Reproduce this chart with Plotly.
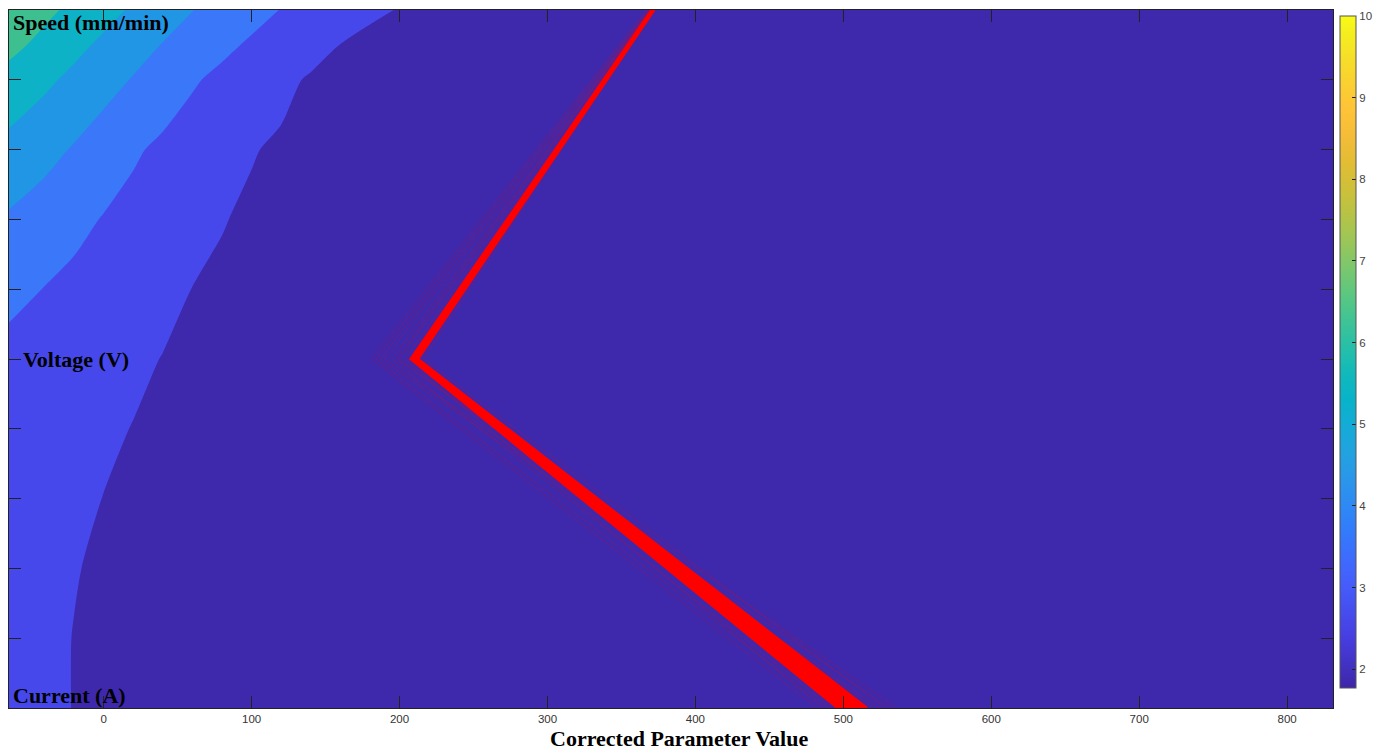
import plotly.graph_objects as go

# ---- response surface sampled on a coarse grid (parameter value x parameter axis) ----
grid_x = [-66, -40, -20, 0, 20, 40, 60, 80, 100, 120, 140, 160, 200, 300, 832]
grid_y = [1.0, 1.2, 1.4, 1.6, 1.8, 2.0, 2.2, 2.4, 2.6, 2.8, 2.9, 3.0]
grid_z = [
    [2.20, 2.09, 1.99, 1.94, 1.92, 1.91, 1.90, 1.89, 1.88, 1.87, 1.86, 1.85, 1.84, 1.81, 1.78],
    [2.25, 2.10, 1.99, 1.94, 1.92, 1.91, 1.90, 1.89, 1.88, 1.87, 1.86, 1.85, 1.84, 1.81, 1.78],
    [2.30, 2.15, 2.02, 1.94, 1.92, 1.91, 1.90, 1.89, 1.88, 1.87, 1.86, 1.85, 1.84, 1.81, 1.78],
    [2.40, 2.25, 2.12, 1.99, 1.93, 1.91, 1.90, 1.89, 1.88, 1.87, 1.86, 1.85, 1.84, 1.81, 1.78],
    [2.55, 2.39, 2.25, 2.12, 1.98, 1.92, 1.90, 1.89, 1.88, 1.87, 1.86, 1.85, 1.84, 1.81, 1.78],
    [2.80, 2.61, 2.45, 2.30, 2.14, 1.98, 1.92, 1.89, 1.88, 1.87, 1.86, 1.85, 1.84, 1.81, 1.78],
    [3.22, 2.98, 2.78, 2.59, 2.39, 2.20, 1.99, 1.90, 1.88, 1.87, 1.86, 1.85, 1.84, 1.81, 1.78],
    [3.91, 3.55, 3.24, 2.95, 2.72, 2.49, 2.26, 2.03, 1.90, 1.87, 1.86, 1.85, 1.84, 1.81, 1.78],
    [4.75, 4.30, 3.92, 3.52, 3.12, 2.82, 2.56, 2.30, 2.04, 1.90, 1.87, 1.86, 1.84, 1.81, 1.78],
    [5.69, 5.19, 4.77, 4.35, 3.94, 3.52, 3.10, 2.78, 2.48, 2.18, 1.92, 1.88, 1.85, 1.82, 1.79],
    [6.33, 5.72, 5.26, 4.81, 4.38, 3.96, 3.58, 3.21, 2.87, 2.58, 2.29, 1.99, 1.90, 1.84, 1.80],
    [6.77, 6.23, 5.77, 5.32, 4.87, 4.45, 4.02, 3.67, 3.32, 2.97, 2.71, 2.45, 1.95, 1.85, 1.80],
]

# ---- corrected parameter sets (one polyline per set: Current -> Voltage -> Speed) ----
main_current = [496, 498, 500, 501, 502, 503, 504, 505, 506, 507, 508, 510, 512, 514, 516]
main_voltage = [207.5, 208, 208, 208.5, 209, 209, 209.5, 210, 210, 210.5, 211, 211, 211.5, 212, 212.5]
main_speed = [370.5, 370.5, 370.8, 371, 371, 371, 371.2, 371.3, 371.4, 371.5, 371.6, 371.7, 371.8, 372, 372]

faint_current = [482, 489, 524, 531, 492, 520, 486, 528, 536]
faint_voltage = [181, 184, 187, 190, 195, 200, 204, 216, 198]
faint_speed = [367, 368, 369, 369.5, 370, 370, 370.5, 372, 369]

axis_positions = [1, 2, 3]
axis_names = ["Current (A)", "Voltage (V)", "Speed (mm/min)"]

x_ticks = [0, 100, 200, 300, 400, 500, 600, 700, 800]
y_ticks = [1.0, 1.2, 1.4, 1.6, 1.8, 2.0, 2.2, 2.4, 2.6, 2.8, 3.0]
cbar_ticks = [2, 3, 4, 5, 6, 7, 8, 9, 10]
z_min, z_max = 1.77, 10

# contour levels and the fill of each band (below 2, 2-3, 3-4, 4-5, 5-6, above 6)
levels = dict(start=2, end=6, size=1)
band_colors = ["rgb(62,40,172)", "rgb(70,72,236)", "rgb(58,119,249)",
               "rgb(33,150,229)", "rgb(14,178,198)", "rgb(62,191,143)"]

PARULA = [
    [0.000, "rgb(62,38,168)"], [0.075, "rgb(71,62,225)"], [0.153, "rgb(69,92,251)"],
    [0.192, "rgb(62,107,254)"], [0.231, "rgb(51,122,252)"], [0.271, "rgb(46,137,245)"],
    [0.310, "rgb(42,150,234)"], [0.349, "rgb(34,162,225)"], [0.388, "rgb(21,171,215)"],
    [0.427, "rgb(8,179,202)"], [0.467, "rgb(16,185,187)"], [0.506, "rgb(38,191,169)"],
    [0.545, "rgb(62,195,150)"], [0.584, "rgb(90,199,129)"], [0.624, "rgb(122,199,109)"],
    [0.663, "rgb(153,198,89)"], [0.702, "rgb(181,195,71)"], [0.741, "rgb(205,192,57)"],
    [0.780, "rgb(225,189,52)"], [0.820, "rgb(244,188,56)"], [0.859, "rgb(254,195,55)"],
    [0.898, "rgb(251,207,49)"], [0.937, "rgb(246,222,40)"], [0.976, "rgb(245,239,31)"],
    [1.000, "rgb(249,251,21)"],
]

# filled contours sample the scale at band midpoints spread evenly over [0, 1]
n_bands = len(band_colors)
band_scale = [[i / (n_bands - 1), c] for i, c in enumerate(band_colors)]


def polylines(cur, vol, spd):
    xs, ys = [], []
    for c, v, s in zip(cur, vol, spd):
        xs += [c, v, s, None]
        ys += axis_positions + [None]
    return xs, ys


fig = go.Figure()

fig.add_trace(go.Contour(
    x=grid_x, y=grid_y, z=grid_z,
    colorscale=band_scale, autocontour=False,
    contours=dict(coloring="fill", showlines=False, **levels),
    line=dict(width=0, smoothing=0.8), showscale=False, hoverinfo="skip",
))

fx, fy = polylines(faint_current, faint_voltage, faint_speed)
fig.add_trace(go.Scatter(x=fx, y=fy, mode="lines",
                         line=dict(color="rgba(255,0,0,0.2)", width=1),
                         hoverinfo="skip", showlegend=False))

mx, my = polylines(main_current, main_voltage, main_speed)
fig.add_trace(go.Scatter(x=mx, y=my, mode="lines",
                         line=dict(color="rgb(255,0,0)", width=2.5),
                         hoverinfo="skip", showlegend=False))

# colour scale bar (continuous)
fig.add_trace(go.Scatter(
    x=[None, None], y=[None, None], mode="markers", showlegend=False, hoverinfo="skip",
    marker=dict(color=[z_min, z_max], cmin=z_min, cmax=z_max, colorscale=PARULA,
                showscale=True, size=0.1,
                colorbar=dict(
                    thickness=16, thicknessmode="pixels",
                    len=672, lenmode="pixels",
                    x=1.005, xanchor="left", xpad=0,
                    y=0.51, yanchor="middle", ypad=0,
                    outlinewidth=1, outlinecolor="#555",
                    tickvals=cbar_ticks, ticks="inside", ticklen=4, tickcolor="#222",
                    tickfont=dict(family="Liberation Sans", size=11.5, color="#444"),
                )),
))

label_font = dict(family="Liberation Serif", size=22, color="black")
annotations = [
    dict(text="<b>%s</b>" % axis_names[2], x=0, y=axis_positions[2], xref="paper", yref="y",
         xanchor="left", yanchor="top", xshift=2, yshift=2, showarrow=False, font=label_font),
    dict(text="<b>%s</b>" % axis_names[1], x=0, y=axis_positions[1], xref="paper", yref="y",
         xanchor="left", yanchor="middle", xshift=12, showarrow=False, font=label_font),
    dict(text="<b>%s</b>" % axis_names[0], x=0, y=axis_positions[0], xref="paper", yref="y",
         xanchor="left", yanchor="bottom", xshift=2, yshift=-2, showarrow=False, font=label_font),
    dict(text="<b>Corrected Parameter Value</b>", x=0.506, y=0, xref="paper", yref="paper",
         xanchor="center", yanchor="middle", yshift=-30, showarrow=False, font=label_font),
]

fig.update_layout(
    width=1388, height=751,
    margin=dict(l=9, r=55, t=10, b=43),
    paper_bgcolor="white", plot_bgcolor="white",
    showlegend=False,
    annotations=annotations,
    xaxis=dict(range=[-64, 831], tickvals=x_ticks, ticks="inside", ticklen=12,
               tickcolor="#222", showline=True, linecolor="#222", linewidth=1,
               mirror="ticks", showgrid=False, zeroline=False,
               tickfont=dict(family="Liberation Sans", size=11.5, color="#333")),
    yaxis=dict(range=[1, 3], tickvals=y_ticks, ticks="inside", ticklen=12,
               tickcolor="#222", showline=True, linecolor="#222", linewidth=1,
               mirror="ticks", showgrid=False, zeroline=False, showticklabels=False),
)

fig.write_html("out.html")
